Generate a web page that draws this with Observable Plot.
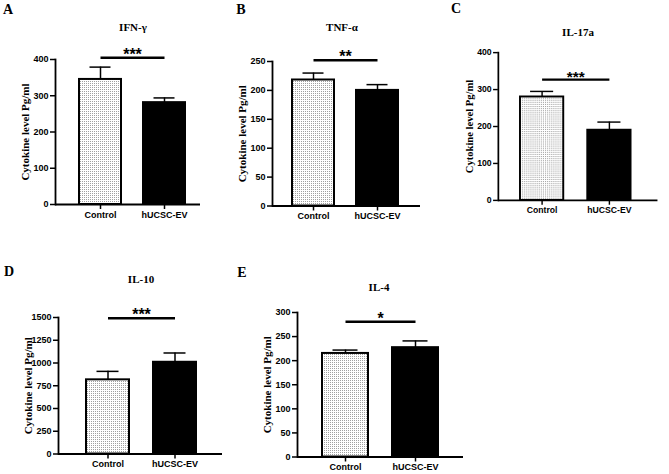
<!DOCTYPE html>
<html><head><meta charset="utf-8">
<script src="https://cdn.jsdelivr.net/npm/d3@7"></script>
<script src="https://cdn.jsdelivr.net/npm/@observablehq/plot@0.6"></script>
<style>
html,body{margin:0;padding:0;background:#fff;}
#fig{position:relative;width:669px;height:474px;overflow:hidden;background:#fff;}
.panel{position:absolute;}
.panel svg{overflow:visible;}
.letter{position:absolute;font-family:"Liberation Serif",serif;font-weight:bold;font-size:14px;line-height:1;transform:translate(-50%,-50%);color:#000;}
.title{position:absolute;font-family:"Liberation Serif",serif;font-weight:bold;font-size:11px;line-height:1;transform:translate(-50%,-50%);white-space:nowrap;color:#000;}
</style></head><body>
<svg width="0" height="0" style="position:absolute">
  <defs>
    <pattern id="dots" width="2" height="2" patternUnits="userSpaceOnUse">
      <rect width="2" height="2" fill="#ffffff"></rect>
      <rect width="1" height="1" fill="#a0a0a0"></rect>
    </pattern>
  </defs>
</svg>
<div id="fig"></div>
<script>
// ---- data ----
const groups = ["Control", "hUCSC-EV"];
const cytokines = ["IFN-γ", "TNF-α", "IL-17a", "IL-10", "IL-4"];
const panelLetters = ["A", "B", "C", "D", "E"];
const controlMean = [345, 218, 280, 815, 215];
const controlErr = [34, 12, 15, 93, 7];
const evMean = [281, 200, 190, 1008, 227];
const evErr = [13, 10, 22, 102, 14];
const significance = ["***", "**", "***", "***", "*"];
const sigLevel = [405, 252, 327, 1492, 281];
const yTicks = [
  [0, 100, 200, 300, 400],
  [0, 50, 100, 150, 200, 250],
  [0, 100, 200, 300, 400],
  [0, 250, 500, 750, 1000, 1250, 1500],
  [0, 50, 100, 150, 200, 250, 300]
];
const yLabel = "Cytokine level Pg/ml";

// ---- layout (page pixels) ----
const layout = [
  {L: 55, R: 200, T: 59, B: 204, s1: 79, w: 42, st: 64, title: [133, 27], letter: [8, 10]},
  {L: 272, R: 420, T: 61, B: 205.5, s1: 292, w: 42, st: 64, title: [342, 27], letter: [241, 10]},
  {L: 500, R: 666, T: 53, B: 206.7, s1: 523, w: 45, st: 70, title: [578, 32], letter: [456, 9]},
  {L: 58, R: 222, T: 317, B: 453.5, s1: 86, w: 43, st: 67, title: [141, 279], letter: [9, 272]},
  {L: 297, R: 463, T: 312, B: 456.5, s1: 322, w: 46, st: 70, title: [379, 287], letter: [242, 273]}
];

const fig = document.getElementById("fig");
const mL = 55, mR = 12, mT = 22, mB = 30;

cytokines.forEach((name, i) => {
  const g = layout[i];
  const W = g.R - g.L;
  const pi = 1 - g.w / g.st;
  const po = (W / g.st - 2 + pi) / 2;
  const align = (g.s1 - g.L) / (W - g.st * (2 - pi));
  const starDx = (g.s1 + g.w / 2 + g.st / 2) - (g.L + g.R) / 2;

  const data = groups.map((grp, j) => ({
    group: grp,
    mean: j ? evMean[i] : controlMean[i],
    err: j ? evErr[i] : controlErr[i]
  }));
  const sig = groups.map(grp => ({group: grp, y: sigLevel[i]}));
  const ticks = yTicks[i];

  const svg = Plot.plot({
    width: W + mL + mR,
    height: (g.B - g.T) + mT + mB,
    marginLeft: mL, marginRight: mR, marginTop: mT, marginBottom: mB,
    style: {fontFamily: "'Liberation Sans', Arial, sans-serif", fontSize: "9px", fontWeight: "bold", color: "#000", background: "transparent", overflow: "visible"},
    x: {domain: groups, paddingInner: pi, paddingOuter: po, align},
    y: {domain: [0, ticks[ticks.length - 1]]},
    marks: [
      Plot.ruleX(data, {x: "group", y1: "mean", y2: d => d.mean + d.err, strokeWidth: 1.5, stroke: "#000"}),
      Plot.tickY(data, {x: "group", y: d => d.mean + d.err, inset: 10.5, strokeWidth: 1.5, stroke: "#000"}),
      Plot.barY([data[0]], {x: "group", y: "mean", fill: "url(#dots)", stroke: "#000", strokeWidth: 2}),
      Plot.barY([data[1]], {x: "group", y: "mean", fill: "#000", stroke: "#000", strokeWidth: 2}),
      Plot.frame({anchor: "left", strokeWidth: 1.8, stroke: "#000"}),
      Plot.ruleY([0], {strokeWidth: 1.8, stroke: "#000"}),
      Plot.axisY({ticks, tickSize: 5, tickPadding: 2, label: null, strokeWidth: 1.5, tickFormat: d => String(d)}),
      Plot.axisX({tickSize: 5, tickPadding: 2, label: null, strokeWidth: 1.5}),
      Plot.line(sig, {x: "group", y: "y", strokeWidth: 2.5, stroke: "#000", strokeLinecap: "butt"}),
      Plot.text([significance[i]], {text: d => d, y: () => sigLevel[i], dx: starDx, dy: -3, fontSize: 16, fontWeight: "bold"}),
      Plot.text([yLabel], {text: d => d, frameAnchor: "left", textAnchor: "middle", lineAnchor: "middle", rotate: -90, dx: -30, fontFamily: "'Liberation Serif', 'Times New Roman', serif", fontSize: 11, fontWeight: "bold"})
    ]
  });

  const holder = document.createElement("div");
  holder.className = "panel";
  holder.style.left = (g.L - mL) + "px";
  holder.style.top = (g.T - mT) + "px";
  holder.appendChild(svg);
  fig.appendChild(holder);

  const t = document.createElement("div");
  t.className = "title";
  t.textContent = name;
  t.style.left = g.title[0] + "px";
  t.style.top = g.title[1] + "px";
  fig.appendChild(t);

  const l = document.createElement("div");
  l.className = "letter";
  l.textContent = panelLetters[i];
  l.style.left = g.letter[0] + "px";
  l.style.top = g.letter[1] + "px";
  fig.appendChild(l);
});
</script>
</body></html>
